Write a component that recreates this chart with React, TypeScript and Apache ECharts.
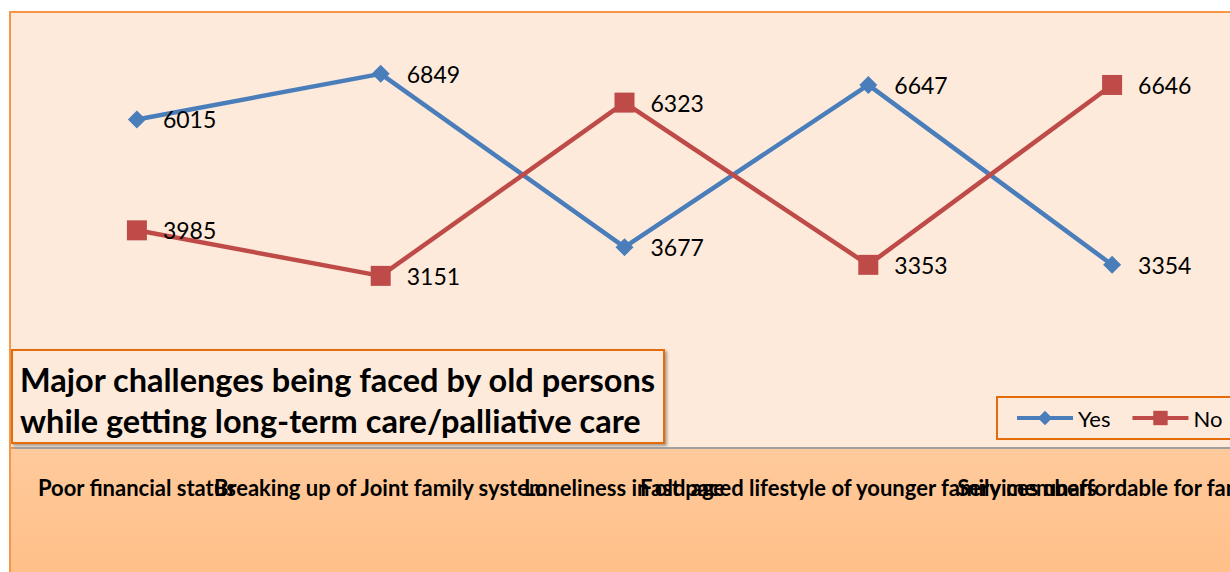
import React, { useEffect, useRef } from "react";
import * as echarts from "echarts";

const categories = [
  "Poor financial status",
  "Breaking up of Joint family system",
  "Loneliness in old age",
  "Fast paced lifestyle of younger family members",
  "Services unaffordable for family",
];
const yesValues = [6015, 6849, 3677, 6647, 3354];
const noValues = [3985, 3151, 6323, 3353, 6646];
const titleLines = [
  "Major challenges being faced by old persons",
  "while getting long-term care/palliative care",
];

const FONT = "Lato, 'Open Sans', sans-serif";

export default function App() {
  const ref = useRef<HTMLDivElement>(null);
  useEffect(() => {
    if (!ref.current) return;
    const chart = echarts.init(ref.current, undefined, { renderer: "svg" });
    chart.setOption({
      animation: false,
      backgroundColor: "#ffffff",
      textStyle: { fontFamily: FONT },
      grid: {
        left: 15,
        right: -4,
        top: 11,
        bottom: 124,
        containLabel: false,
        outerBoundsMode: "none",
      },
      xAxis: {
        type: "category",
        data: categories,
        boundaryGap: true,
        axisLine: { show: true, lineStyle: { color: "#A0A0A0", width: 2 } },
        axisTick: { show: false },
        axisLabel: {
          interval: 0,
          margin: 28,
          color: "#000",
          fontWeight: "bold",
          fontSize: 22,
          fontFamily: FONT,
          hideOverlap: false,
        },
        splitLine: { show: false },
        z: 5,
      },
      yAxis: { type: "value", min: 0, max: 8000, show: false, splitLine: { show: false } },
      legend: {
        left: 997,
        top: 397,
        width: 400,
        orient: "horizontal",
        backgroundColor: "#FDEADA",
        borderColor: "#E46C0A",
        borderWidth: 2,
        borderRadius: 0,
        padding: [10, 40, 10, 18],
        itemWidth: 56,
        itemHeight: 18,
        itemGap: 20,
        lineStyle: { width: 4 },
        textStyle: { fontSize: 22, color: "#000", fontFamily: FONT },
        data: ["Yes", "No"],
      },
      graphic: [
        {
          type: "rect",
          z: -10,
          shape: { x: 10, y: 12, width: 1230, height: 436 },
          style: { fill: "#FDEADA", stroke: "#F79646", lineWidth: 2 },
          silent: true,
        },
        {
          type: "rect",
          z: -10,
          shape: { x: 10, y: 448, width: 1230, height: 130 },
          style: {
            fill: new echarts.graphic.LinearGradient(0, 0, 0, 1, [
              { offset: 0, color: "#FFCA9C" },
              { offset: 1, color: "#FFBF88" },
            ]),
            stroke: "#F79646",
            lineWidth: 2,
          },
          silent: true,
        },
        {
          type: "group",
          z: 10,
          children: [
            {
              type: "rect",
              shape: { x: 12, y: 350, width: 652, height: 93 },
              style: {
                fill: "#FDEADA",
                stroke: "#E46C0A",
                lineWidth: 2,
                shadowBlur: 3,
                shadowOffsetX: 2,
                shadowOffsetY: 2,
                shadowColor: "rgba(0,0,0,0.35)",
              },
            },
            {
              type: "text",
              x: 20,
              y: 379,
              style: {
                text: titleLines[0],
                font: `bold 32.5px ${FONT}`,
                fill: "#000",
                textVerticalAlign: "middle",
              },
            },
            {
              type: "text",
              x: 20,
              y: 420,
              style: {
                text: titleLines[1],
                font: `bold 32.5px ${FONT}`,
                fill: "#000",
                textVerticalAlign: "middle",
              },
            },
          ],
        },
      ],
      series: [
        {
          name: "Yes",
          type: "line",
          data: yesValues,
          symbol: "diamond",
          symbolSize: 18,
          lineStyle: { color: "#4A7EBB", width: 4.5 },
          itemStyle: { color: "#4A7EBB" },
          label: {
            show: true,
            position: "right",
            distance: 17,
            fontSize: 23,
            color: "#000",
            fontFamily: FONT,
          },
        },
        {
          name: "No",
          type: "line",
          data: noValues,
          symbol: "rect",
          symbolSize: 20,
          lineStyle: { color: "#BE4B48", width: 4.5 },
          itemStyle: { color: "#BE4B48" },
          label: {
            show: true,
            position: "right",
            distance: 16,
            fontSize: 23,
            color: "#000",
            fontFamily: FONT,
          },
        },
      ],
    });
    return () => chart.dispose();
  }, []);
  return (
    <div
      ref={ref}
      style={{ position: "fixed", left: 0, top: 0, width: 1230, height: 572 }}
    />
  );
}
